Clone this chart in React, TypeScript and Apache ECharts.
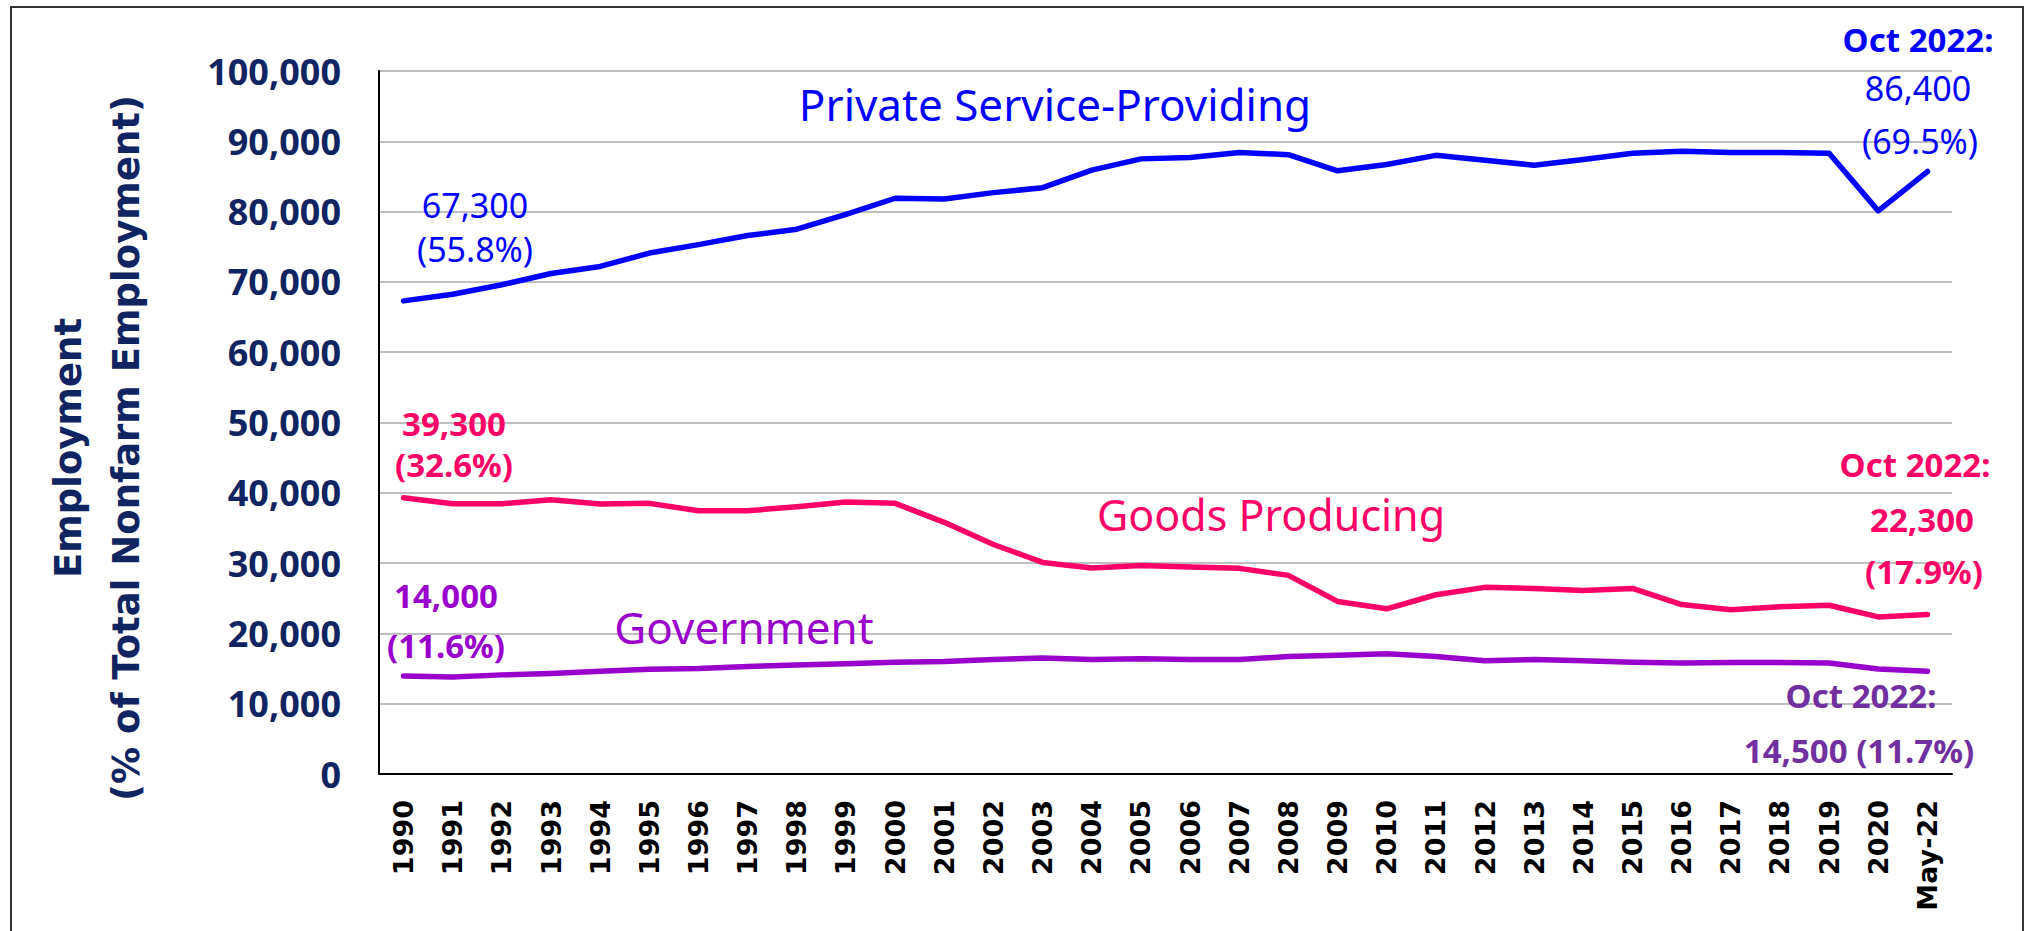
import React, { useEffect, useRef } from "react";
import * as echarts from "echarts";

const categories = [
  "1990","1991","1992","1993","1994","1995","1996","1997","1998","1999",
  "2000","2001","2002","2003","2004","2005","2006","2007","2008","2009",
  "2010","2011","2012","2013","2014","2015","2016","2017","2018","2019",
  "2020","May-22",
];

const privateService = [
  67300, 68250, 69600, 71200, 72200, 74100, 75300, 76600, 77500, 79600,
  81900, 81800, 82700, 83400, 85900, 87500, 87700, 88400, 88100, 85800,
  86700, 88000, 87300, 86600, 87400, 88300, 88600, 88400, 88400, 88300,
  80100, 85700,
];

const goodsProducing = [
  39300, 38450, 38450, 39000, 38400, 38500, 37450, 37450, 38000, 38700,
  38500, 35800, 32650, 30100, 29300, 29650, 29450, 29250, 28250, 24550,
  23500, 25500, 26550, 26400, 26100, 26400, 24100, 23350, 23800, 24000,
  22350, 22700,
];

const government = [
  13950, 13800, 14100, 14300, 14600, 14900, 15000, 15300, 15500, 15700,
  15900, 16000, 16300, 16500, 16300, 16400, 16300, 16300, 16700, 16900,
  17100, 16700, 16100, 16300, 16100, 15900, 15800, 15850, 15850, 15800,
  14950, 14600,
];

const yTicks = { min: 0, max: 100000, interval: 10000 };

const BLUE = "#0000ff";
const PINK = "#ff0066";
const PURPLE = "#9900cc";
const PURPLE2 = "#7030a0";
const NAVY = "#0f2460";

const annFont = '"Noto Sans", sans-serif';

function txt(x: number, y: number, text: string, color: string, size: number, weight: any = "bold", align = "center") {
  return {
    type: "text",
    x,
    y,
    style: {
      text,
      fill: color,
      font: `${weight} ${size}px ${annFont}`,
      align,
      verticalAlign: "middle",
    },
    z: 10,
  };
}

export default function App() {
  const ref = useRef<HTMLDivElement>(null);
  useEffect(() => {
    if (!ref.current) return;
    const chart = echarts.init(ref.current, undefined, { renderer: "svg" });
    const lineSeries = (name: string, data: number[], color: string) => ({
      name,
      type: "line",
      data,
      symbol: "none",
      lineStyle: { color, width: 5.5, cap: "round", join: "round" },
      itemStyle: { color },
    });
    chart.setOption({
      animation: false,
      backgroundColor: "#ffffff",
      grid: { left: 379, right: 82, top: 71, bottom: 931 - 774 },
      xAxis: {
        type: "category",
        data: categories,
        boundaryGap: true,
        axisLine: { lineStyle: { color: "#000000", width: 2 } },
        axisTick: { show: false },
        axisLabel: {
          rotate: 90,
          interval: 0,
          color: "#000000",
          fontFamily: "DejaVu Sans",
          fontWeight: "bold",
          fontSize: 27,
          margin: 26,
        },
      },
      yAxis: {
        type: "value",
        min: yTicks.min,
        max: yTicks.max,
        interval: yTicks.interval,
        axisLine: { show: true, lineStyle: { color: "#000000", width: 2 } },
        axisTick: { show: false },
        splitLine: { lineStyle: { color: "#bfbfbf", width: 2 } },
        axisLabel: {
          color: NAVY,
          fontFamily: '"Noto Sans", sans-serif',
          fontWeight: "bold",
          fontSize: 36,
          margin: 38,
          formatter: (v: number) => v.toLocaleString("en-US"),
        },
      },
      series: [
        lineSeries("Private Service-Providing", privateService, BLUE),
        lineSeries("Goods Producing", goodsProducing, PINK),
        lineSeries("Government", government, PURPLE),
      ],
      graphic: [
        {
          type: "rect",
          shape: { x: 11, y: 7, width: 2012, height: 940 },
          style: { fill: "none", stroke: "#333333", lineWidth: 2 },
          z: 0,
        },
        {
          type: "text",
          x: 68,
          y: 448,
          rotation: Math.PI / 2,
          style: {
            text: "Employment",
            fill: NAVY,
            font: 'bold 37px "DejaVu Sans", sans-serif',
            align: "center",
            verticalAlign: "middle",
          },
        },
        {
          type: "text",
          x: 126,
          y: 448,
          rotation: Math.PI / 2,
          style: {
            text: "(% of Total Nonfarm Employment)",
            fill: NAVY,
            font: 'bold 37px "DejaVu Sans", sans-serif',
            align: "center",
            verticalAlign: "middle",
          },
        },
        txt(1055, 104, "Private Service-Providing", BLUE, 44, "normal"),
        txt(1271, 514, "Goods Producing", PINK, 43, "normal"),
        txt(744, 627, "Government", PURPLE, 44, "normal"),
        txt(475, 205, "67,300", BLUE, 34, "normal"),
        txt(475, 249, "(55.8%)", BLUE, 34, "normal"),
        txt(454, 423, "39,300", PINK, 33, "bold"),
        txt(454, 464, "(32.6%)", PINK, 33, "bold"),
        txt(446, 595, "14,000", PURPLE, 33, "bold"),
        txt(446, 645, "(11.6%)", PURPLE, 33, "bold"),
        txt(1918, 39, "Oct 2022:", BLUE, 33, "bold"),
        txt(1918, 88, "86,400", BLUE, 34, "normal"),
        txt(1920, 141, "(69.5%)", BLUE, 34, "normal"),
        txt(1915, 464, "Oct 2022:", PINK, 33, "bold"),
        txt(1922, 519, "22,300", PINK, 33, "bold"),
        txt(1924, 571, "(17.9%)", PINK, 33, "bold"),
        txt(1861, 695, "Oct 2022:", PURPLE2, 33, "bold"),
        txt(1859, 750, "14,500 (11.7%)", PURPLE2, 33, "bold"),
      ],
    });
    return () => chart.dispose();
  }, []);
  return (
    <div
      ref={ref}
      style={{ position: "fixed", left: 0, top: 0, width: 2034, height: 931 }}
    />
  );
}
